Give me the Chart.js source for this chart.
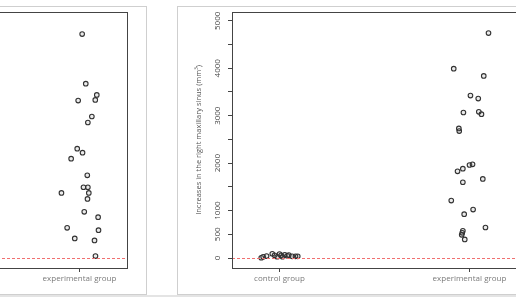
<!DOCTYPE html>
<html>
<head>
<meta charset="utf-8">
<script src="https://cdn.jsdelivr.net/npm/chart.js@4"></script>
<style>
  body { margin: 0; width: 516px; height: 297px; overflow: hidden; background: #fff; position: relative; }
  .card { position: absolute; top: 6px; width: 360px; height: 289px; border: 1px solid #cfcfcf; box-sizing: border-box; }
  .box { position: absolute; top: 6px; width: 359px; height: 289px; }
  .strip { position: absolute; left: 0; top: 295px; width: 516px; height: 2px; background: #e4e4e4; }
</style>
</head>
<body>
<div class="card" style="left:-213px"></div>
<div class="card" style="left:177px"></div>
<div class="strip"></div>
<div class="box" style="left:-213px"><canvas id="leftChart"></canvas></div>
<div class="box" style="left:177px"><canvas id="rightChart"></canvas></div>
<script>
// categories and axis ticks
const categories = ['control group', 'experimental group'];
const yTicks = [0, 500, 1000, 1500, 2000, 2500, 3000, 3500, 4000, 4500, 5000];
const yLabels = [0, 500, 1000, 2000, 3000, 4000, 5000];

// right sinus (visible panel)
const rightControl = [6, 27, 42, 90, 57, 27, 84, 57, 27, 69, 48, 63, 36, 36, 36];
const rightControlJitter = [-0.096, -0.086, -0.068, -0.038, -0.026, -0.012, 0.000, 0.009, 0.016, 0.028, 0.041, 0.049, 0.067, 0.084, 0.096];
const rightExp = [4742, 3992, 3838, 3424, 3361, 3067, 3081, 3032, 2731, 2675, 1828, 1884, 1961, 1975, 1597, 1667, 1211, 1022, 924, 644, 574, 532, 490, 392];
const rightExpJitter = [0.100, -0.083, 0.075, 0.005, 0.046, -0.032, 0.049, 0.063, -0.056, -0.054, -0.063, -0.035, 0.000, 0.016, -0.035, 0.070, -0.096, 0.019, -0.028, 0.084, -0.035, -0.038, -0.041, -0.025];

// left sinus (panel cut off at the left edge)
const leftControl = [];
const leftControlJitter = [];
const leftExp = [4720, 3676, 3438, 3333, 3319, 2983, 2857, 2304, 2220, 2094, 1744, 1492, 1492, 1372, 1372, 1246, 973, 861, 637, 588, 414, 372, 42];
const leftExpJitter = [0.014, 0.033, 0.091, 0.083, -0.007, 0.065, 0.044, -0.012, 0.016, -0.044, 0.041, 0.021, 0.044, -0.095, 0.049, 0.042, 0.025, 0.098, -0.065, 0.100, -0.025, 0.079, 0.084];

const refValue = 0;

function toPoints(values, jitter, group) {
    return values.map((v, i) => ({ x: group + jitter[i], y: v }));
}

// box around plot + red dotted line at zero
const framePlugin = {
    id: 'frame',
    afterDatasetsDraw(chart) {
        const { ctx, chartArea: a, scales } = chart;
        ctx.save();
        const y0 = Math.round(scales.y.getPixelForValue(refValue)) + 0.5;
        ctx.strokeStyle = '#f07070';
        ctx.lineWidth = 1;
        ctx.setLineDash([3, 2]);
        ctx.beginPath();
        ctx.moveTo(a.left, y0);
        ctx.lineTo(a.right, y0);
        ctx.stroke();
        ctx.setLineDash([]);
        ctx.strokeStyle = '#444';
        ctx.strokeRect(Math.round(a.left) + 0.5, Math.round(a.top) + 0.5,
            Math.round(a.right - a.left), Math.round(a.bottom - a.top));
        ctx.restore();
    }
};

function makeChart(id, control, controlJit, exp, expJit, title) {
    const ctx = document.getElementById(id).getContext('2d');
    return new Chart(ctx, {
        type: 'scatter',
        data: {
            datasets: [{
                data: toPoints(control, controlJit, 1),
            }, {
                data: toPoints(exp, expJit, 2),
            }]
        },
        options: {
            responsive: true,
            maintainAspectRatio: false,
            animation: false,
            layout: { padding: { left: 0, right: 19, top: 5, bottom: 0 } },
            elements: {
                point: {
                    radius: 2.3,
                    borderWidth: 1.1,
                    borderColor: '#333',
                    backgroundColor: 'rgba(120,120,120,0.15)'
                }
            },
            plugins: {
                legend: { display: false },
                tooltip: { enabled: false }
            },
            scales: {
                x: {
                    type: 'linear',
                    min: 0.75,
                    max: 2.25,
                    afterBuildTicks: s => { s.ticks = [1, 2].map(v => ({ value: v })); },
                    afterFit: s => { s.height = 27; },
                    border: { display: false },
                    grid: { drawOnChartArea: false, tickLength: 4, color: '#444' },
                    ticks: {
                        padding: 2,
                        color: '#7a7a7a',
                        font: { family: 'Open Sans', size: 8 },
                        callback: v => categories[v - 1]
                    }
                },
                y: {
                    min: -210,
                    max: 5190,
                    afterBuildTicks: s => { s.ticks = yTicks.map(v => ({ value: v })); },
                    afterFit: s => { s.width = 55; },
                    border: { display: false },
                    grid: { drawOnChartArea: false, tickLength: 4, color: '#444' },
                    title: {
                        display: true,
                        text: title,
                        color: '#555',
                        padding: { top: 17, bottom: 0 },
                        font: { family: 'Open Sans', size: 7.5 }
                    },
                    ticks: {
                        minRotation: 90,
                        maxRotation: 90,
                        crossAlign: 'center',
                        padding: 1,
                        color: '#444',
                        font: { family: 'Open Sans', size: 8 },
                        callback: v => yLabels.includes(v) ? String(v) : ''
                    }
                }
            }
        },
        plugins: [framePlugin]
    });
}

makeChart('leftChart', leftControl, leftControlJitter, leftExp, leftExpJitter,
    'Increases in the left maxillary sinus (mm³)');
makeChart('rightChart', rightControl, rightControlJitter, rightExp, rightExpJitter,
    'Increases in the right maxillary sinus (mm³)');
</script>
</body>
</html>
